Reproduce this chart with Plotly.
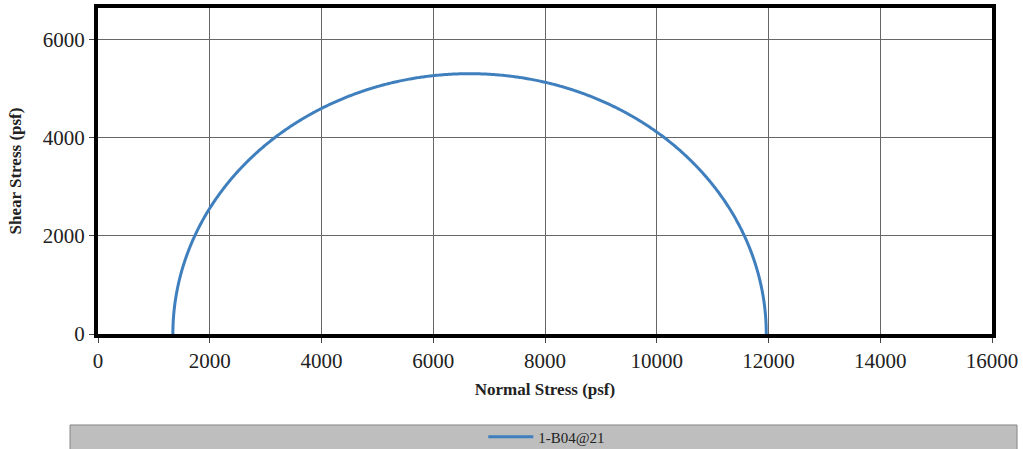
import numpy as np
import plotly.graph_objects as go

# Principal stresses (psf)
sigma3 = 1340.0
sigma1 = 11960.0
series_name = "1-B04@21"
x_ticks = [0, 2000, 4000, 6000, 8000, 10000, 12000, 14000, 16000]
x_tick_labels = ["0", "2000", "4000", "6000", "8000", "10000", "12000", "14000", "16000"]
y_ticks = [0, 2000, 4000, 6000]
y_tick_labels = ["0", "2000", "4000", "6000"]

center = (sigma1 + sigma3) / 2
radius = (sigma1 - sigma3) / 2
theta = np.linspace(np.pi, 0, 721)
x = center + radius * np.cos(theta)
y = radius * np.sin(theta)

fig = go.Figure()
fig.add_trace(go.Scatter(x=x, y=y, mode="lines", name=series_name,
                         line=dict(color="#3f7fbe", width=3, simplify=False)))

font_family = "Liberation Serif"
fig.update_layout(
    width=1023, height=449,
    margin=dict(l=98, r=31, t=8, b=115, autoexpand=False),
    plot_bgcolor="white", paper_bgcolor="white",
    font=dict(family=font_family, color="#222"),
    showlegend=True,
    legend=dict(orientation="h", x=0.502, xanchor="center", y=-0.316, yanchor="middle",
                itemwidth=45,
                bgcolor="rgba(0,0,0,0)", font=dict(family=font_family, size=15, color="#222")),
    shapes=[dict(type="rect", xref="paper", yref="paper", x0=-0.0313, x1=1.028,
                 y0=-0.36, y1=-0.279, fillcolor="#bebebe",
                 line=dict(color="#888", width=1), layer="below")],
)
fig.update_xaxes(range=[0, 16000], tickvals=x_ticks, ticktext=x_tick_labels, showgrid=True,
                 gridcolor="#666", automargin=False,
                 gridwidth=1, showline=True, linecolor="black", linewidth=4, mirror=True,
                 ticks="outside", ticklen=5, tickcolor="#444", zeroline=False,
                 tickfont=dict(size=21, family=font_family, color="#222"),
                 title=dict(text="<b>Normal Stress (psf)</b>", font=dict(size=17, family=font_family),
                            standoff=12))
fig.update_yaxes(range=[0, 6650], tickvals=y_ticks, ticktext=y_tick_labels, showgrid=True,
                 gridcolor="#666", automargin=False,
                 gridwidth=1, showline=True, linecolor="black", linewidth=4, mirror=True,
                 ticks="outside", ticklen=5, tickcolor="#444", zeroline=False,
                 tickfont=dict(size=21, family=font_family, color="#222"),
                 title=dict(text="<b>Shear Stress (psf)</b>", font=dict(size=17, family=font_family),
                            standoff=18))

fig.write_html("out.html")
